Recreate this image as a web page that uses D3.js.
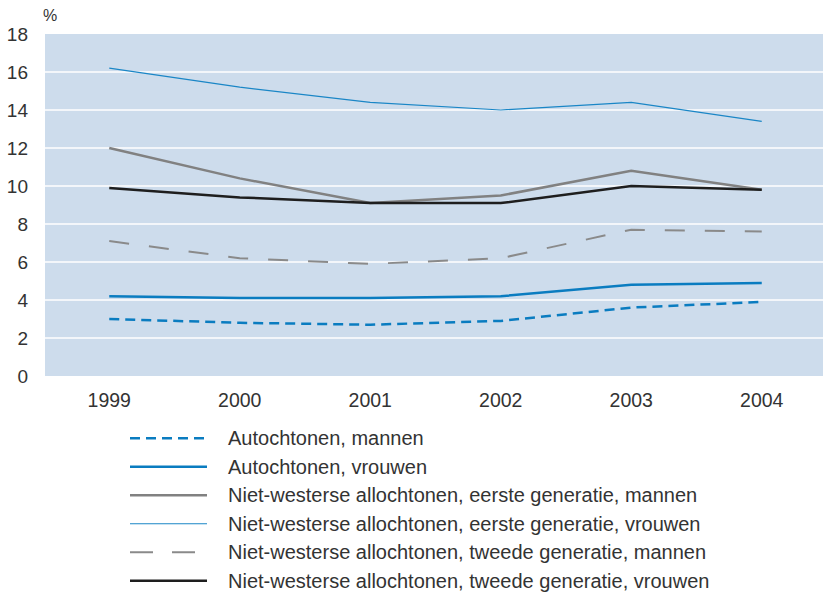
<!DOCTYPE html>
<html>
<head>
<meta charset="utf-8">
<script src="https://cdn.jsdelivr.net/npm/d3@7"></script>
<style>
  body { margin: 0; background: #fff; }
  text { font-family: "Liberation Sans", Arial, sans-serif; fill: #333; }
</style>
</head>
<body>
<svg id="chart" width="823" height="592"></svg>
<script>
const years = ['1999', '2000', '2001', '2002', '2003', '2004'];
const yTicks = [0, 2, 4, 6, 8, 10, 12, 14, 16, 18];

const autMannen = [3.0, 2.8, 2.7, 2.9, 3.6, 3.9];
const autVrouwen = [4.2, 4.1, 4.1, 4.2, 4.8, 4.9];
const nw1Mannen = [12.0, 10.4, 9.1, 9.5, 10.8, 9.8];
const nw1Vrouwen = [16.2, 15.2, 14.4, 14.0, 14.4, 13.4];
const nw2Mannen = [7.1, 6.2, 5.9, 6.2, 7.7, 7.6];
const nw2Vrouwen = [9.9, 9.4, 9.1, 9.1, 10.0, 9.8];

const seriesNames = [
  'Autochtonen, mannen',
  'Autochtonen, vrouwen',
  'Niet-westerse allochtonen, eerste generatie, mannen',
  'Niet-westerse allochtonen, eerste generatie, vrouwen',
  'Niet-westerse allochtonen, tweede generatie, mannen',
  'Niet-westerse allochtonen, tweede generatie, vrouwen'
];

const series = [
  { name: seriesNames[0], values: autMannen, color: '#0a7cc0', width: 2.5, dash: '10,6' },
  { name: seriesNames[1], values: autVrouwen, color: '#0a7cc0', width: 2.5, dash: null },
  { name: seriesNames[2], values: nw1Mannen, color: '#818181', width: 2.5, dash: null },
  { name: seriesNames[3], values: nw1Vrouwen, color: '#1a86c6', width: 1.2, dash: null },
  { name: seriesNames[4], values: nw2Mannen, color: '#8a8a8a', width: 2, dash: '20,20' },
  { name: seriesNames[5], values: nw2Vrouwen, color: '#1e1e1e', width: 2.5, dash: null }
];

const svg = d3.select('#chart');
const plotLeft = 45, plotTop = 34, plotBottom = 376, plotRight = 823;

const x = d3.scalePoint()
            .domain(years)
            .range([44, 827])
            .padding(0.5);

const y = d3.scaleLinear()
            .domain([0, 18])
            .range([plotBottom, plotTop]);

svg.append('rect')
   .attr('x', plotLeft)
   .attr('y', plotTop)
   .attr('width', plotRight - plotLeft)
   .attr('height', plotBottom - plotTop)
   .attr('fill', '#cddcec');

// gridlines
svg.append('g')
   .selectAll('line')
   .data(yTicks.filter(d => d > 0 && d < 18))
   .enter()
   .append('line')
   .attr('x1', plotLeft)
   .attr('x2', plotRight)
   .attr('y1', d => y(d))
   .attr('y2', d => y(d))
   .attr('stroke', '#fff')
   .attr('stroke-width', 1.5);

// y axis labels
svg.append('g')
   .selectAll('text')
   .data(yTicks)
   .enter()
   .append('text')
   .text(d => d)
   .attr('x', 28)
   .attr('y', d => y(d) + 7)
   .attr('text-anchor', 'end')
   .style('font-size', '19px');

svg.append('text')
   .text('%')
   .attr('x', 43)
   .attr('y', 21)
   .style('font-size', '16px');

// x axis labels
svg.append('g')
   .selectAll('text')
   .data(years)
   .enter()
   .append('text')
   .text(d => d)
   .attr('x', d => x(d))
   .attr('y', 407)
   .attr('text-anchor', 'middle')
   .style('font-size', '19.5px');

const line = d3.line()
               .x((d, i) => x(years[i]))
               .y(d => y(d));

svg.append('g')
   .selectAll('path')
   .data(series)
   .enter()
   .append('path')
   .attr('d', d => line(d.values))
   .attr('fill', 'none')
   .attr('stroke', d => d.color)
   .attr('stroke-width', d => d.width)
   .attr('stroke-dasharray', d => d.dash);

// legend
const legendY = d3.scaleBand()
                  .domain(seriesNames)
                  .range([424, 595]);

const legend = svg.append('g')
                  .selectAll('g')
                  .data(series)
                  .enter()
                  .append('g')
                  .attr('transform', d => `translate(0, ${legendY(d.name) + legendY.bandwidth() / 2})`);

legend.append('line')
      .attr('x1', 130)
      .attr('x2', 207)
      .attr('stroke', d => d.color)
      .attr('stroke-width', d => d.width)
      .attr('stroke-dasharray', d => d.dash === '20,20' ? '23,19' : d.dash);

legend.append('text')
      .text(d => d.name)
      .attr('x', 228)
      .attr('y', 7)
      .style('font-size', '20px');
</script>
</body>
</html>
